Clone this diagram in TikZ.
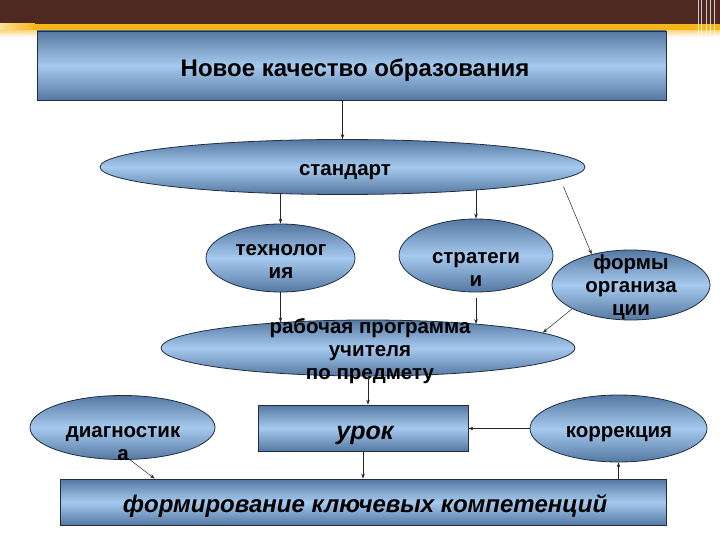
\documentclass[tikz,border=0pt]{standalone}
\usepackage{fontspec}
\setmainfont{Liberation Sans}
\usetikzlibrary{shapes.geometric,arrows.meta}
\definecolor{brownbar}{HTML}{4E2920}
\definecolor{orangebar}{HTML}{F7B71B}
\definecolor{edgeblue}{HTML}{5478A2}
\definecolor{midblue}{HTML}{A6CAEE}
\definecolor{outline}{HTML}{1F2F40}
\begin{document}
\begin{tikzpicture}[x=1pt,y=-1pt,
  shp/.style={draw=outline, line width=0.8pt, top color=edgeblue, bottom color=edgeblue, middle color=midblue, inner sep=0pt},
  ell/.style={shp, ellipse},
  box/.style={shp, rectangle},
  lbl/.style={font=\bfseries\fontsize{20.5}{23}\selectfont, align=center, text=black, inner sep=0pt},
  bigl/.style={font=\bfseries\itshape\fontsize{24}{28}\selectfont, align=center, text=black, inner sep=0pt},
  arr/.style={-{Stealth[length=5pt,width=3.5pt]}, line width=0.5pt, draw=black!85}]
\useasboundingbox (0,0) rectangle (720,540);
% top bar
\fill[brownbar] (0,0) rectangle (720,24);
\shade[left color=orangebar!45, right color=orangebar] (0,24) rectangle (35,31);
\fill[orangebar] (35,24) rectangle (720,31);
\shade[top color=orangebar!50, bottom color=white] (0,31) rectangle (720,37);
\foreach \x/\w in {698/1,701/0.6,706/1.2,710/0.8,714/0.6}
  \fill[white,opacity=0.75] (\x,0) rectangle (\x+\w,45);
% shapes
\node[box, minimum width=629pt, minimum height=69pt] (title) at (351.5,65.5) {};
\node[lbl, font=\bfseries\fontsize{24}{28}\selectfont] (titlet) at (355,70) {Новое качество образования};
\node[ell, minimum width=485pt, minimum height=55pt] (std) at (342.5,167) {};
\node[lbl] (stdt) at (345,172) {стандарт};
\node[ell, minimum width=149pt, minimum height=68pt] (tech) at (280.5,258) {};
\node[lbl] (techt) at (281,261) {технолог\\ия};
\node[ell, minimum width=154pt, minimum height=73pt] (strat) at (476,255.5) {};
\node[lbl] (stratt) at (476,269) {стратеги\\и};
\node[ell, minimum width=158pt, minimum height=70pt] (forms) at (631,285) {};
\node[lbl] (formst) at (631,287) {формы\\организа\\ции};
\node[ell, minimum width=414pt, minimum height=56pt] (prog) at (368,348) {};
\node[lbl] (progt) at (370,351) {рабочая программа\\учителя\\по предмету};
\node[box, minimum width=210pt, minimum height=46pt] (lesson) at (363,428) {};
\node[bigl, font=\bfseries\itshape\fontsize{25}{28}\selectfont] (lessont) at (365,435) {урок};
\node[ell, minimum width=177pt, minimum height=67pt] (corr) at (618.5,428.5) {};
\node[lbl] (corrt) at (619,434) {коррекция};
\node[ell, minimum width=185pt, minimum height=64pt] (diag) at (122.5,427.5) {};
\node[lbl] (diagt) at (123,444) {диагностик\\а};
\node[box, minimum width=606pt, minimum height=46pt] (form) at (363,502) {};
\node[bigl] (formt) at (365,506) {формирование ключевых компетенций};
% connectors
\draw[arr] (std.north |- title.south) -- (std.north);
\draw[arr] (tech.north |- std.204) -- (tech.north);
\draw[arr] (strat.north |- std.350) -- (strat.north);
\draw[arr] ([yshift=-8pt]std.357) -- (forms.142);
\draw[arr] (tech.south) -- (tech.south |- prog.164);
\draw[arr] ([yshift=-6pt]strat.south) -- (strat.south |- prog.12);
\draw[arr] (forms.202) -- (prog.5);
\draw[arr] (prog.south) -- (prog.south |- lesson.north);
\draw[arr] (lesson.south) -- (lesson.south |- form.north);
\draw[arr] (corr.west) -- (corr.west -| lesson.east);
\draw[arr] (form.north -| corr.south) -- (corr.south);
\draw[arr] (diag.283) -- ([xshift=95pt]form.north west);
\end{tikzpicture}
\end{document}
